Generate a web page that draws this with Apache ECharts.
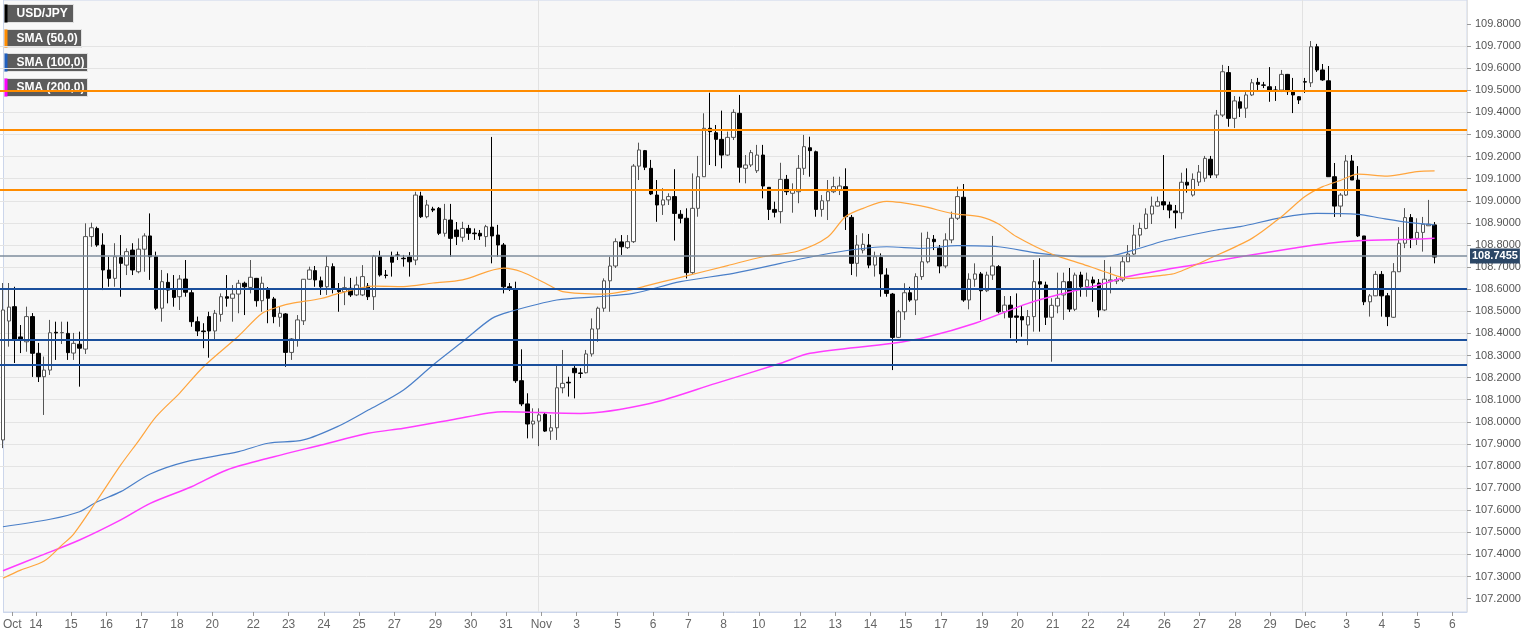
<!DOCTYPE html>
<html>
<head>
<meta charset="utf-8">
<script src="https://cdn.jsdelivr.net/npm/echarts@6/dist/echarts.min.js"></script>
<style>
  html, body { margin: 0; padding: 0; background: #ffffff; }
  #chart { width: 1536px; height: 641px; }
</style>
</head>
<body>
<div id="chart"></div>
<script>
// ---- DATA -------------------------------------------------------------
// 4-hour bars, bar number 0 = Mon Oct 14 00:00; first bar shown is -5
const firstBar = -5;
const barCount = 249;          // slots on the axis (incl. empty ones at the right)

// [open, close, low, high]
const ohlc = [
[107.918,108.506,107.881,108.628],[108.456,108.519,108.340,108.628],[108.521,108.370,108.266,108.611],
[108.384,108.375,108.311,108.438],[108.362,108.476,108.317,108.521],
[108.476,108.310,108.203,108.492],[108.310,108.204,108.180,108.357],[108.204,108.234,108.031,108.295],
[108.234,108.403,108.212,108.461],[108.405,108.402,108.280,108.453],[108.403,108.404,108.352,108.453],
[108.400,108.313,108.280,108.453],[108.311,108.355,108.280,108.402],[108.351,108.333,108.159,108.408],
[108.329,108.838,108.307,108.898],[108.838,108.878,108.792,108.901],[108.875,108.800,108.792,108.883],
[108.800,108.687,108.596,108.853],[108.687,108.649,108.611,108.747],[108.649,108.747,108.611,108.808],
[108.743,108.717,108.566,108.845],[108.709,108.770,108.664,108.785],[108.777,108.687,108.664,108.808],
[108.679,108.781,108.672,108.830],[108.781,108.841,108.679,108.853],[108.841,108.747,108.642,108.943],
[108.747,108.514,108.506,108.770],[108.514,108.634,108.453,108.687],[108.631,108.596,108.536,108.672],
[108.596,108.563,108.521,108.664],[108.566,108.646,108.506,108.664],[108.646,108.586,108.566,108.732],
[108.584,108.453,108.430,108.596],[108.453,108.411,108.388,108.476],[108.411,108.408,108.333,108.446],
[108.476,108.411,108.290,108.498],[108.411,108.491,108.370,108.506],[108.486,108.566,108.453,108.581],
[108.566,108.559,108.521,108.664],[108.559,108.578,108.453,108.619],[108.578,108.627,108.491,108.642],
[108.627,108.611,108.483,108.634],[108.608,108.654,108.581,108.732],[108.649,108.548,108.521,108.651],
[108.548,108.627,108.498,108.657],[108.596,108.559,108.446,108.610],[108.556,108.476,108.446,108.565],
[108.473,108.491,108.430,108.521],[108.488,108.314,108.249,108.492],[108.314,108.375,108.280,108.379],
[108.370,108.461,108.340,108.483],[108.457,108.645,108.438,108.646],[108.645,108.687,108.642,108.702],
[108.684,108.642,108.611,108.705],[108.638,108.611,108.574,108.657],[108.611,108.702,108.574,108.750],
[108.702,108.599,108.581,108.717],[108.596,108.589,108.498,108.628],[108.589,108.607,108.528,108.657],
[108.604,108.574,108.565,108.651],[108.574,108.619,108.569,108.657],[108.574,108.657,108.569,108.709],
[108.614,108.566,108.551,108.628],[108.566,108.750,108.506,108.755],[108.747,108.664,108.657,108.774],
[108.664,108.662,108.649,108.687],[108.747,108.722,108.657,108.770],[108.755,108.753,108.732,108.770],
[108.740,108.738,108.702,108.755],[108.746,108.724,108.657,108.768],[108.732,109.026,108.709,109.041],
[109.022,108.928,108.922,109.041],[108.928,108.981,108.921,109.004],[108.963,108.958,108.949,108.973],
[108.966,108.853,108.845,108.972],[108.853,108.916,108.838,108.986],[108.913,108.830,108.747,108.986],
[108.868,108.838,108.800,108.904],[108.835,108.875,108.815,108.905],[108.875,108.853,108.823,108.891],
[108.854,108.851,108.823,108.875],[108.853,108.841,108.823,108.868],[108.838,108.883,108.792,108.891],
[108.881,108.841,108.717,109.289],[108.845,108.800,108.747,108.891],[108.800,108.611,108.581,108.809],
[108.611,108.605,108.592,108.628],[108.599,108.186,108.176,108.634],[108.186,108.081,108.071,108.328],
[108.081,107.990,107.925,108.129],[107.990,108.003,107.925,108.061],[108.003,108.031,107.890,108.061],
[108.034,107.958,107.954,108.040],[107.958,107.973,107.918,108.031],[107.973,108.154,107.918,108.257],
[108.154,108.174,108.129,108.325],[108.179,108.176,108.114,108.204],[108.242,108.222,108.106,108.257],
[108.221,108.219,108.198,108.243],[108.222,108.307,108.219,108.325],[108.307,108.420,108.295,108.468],
[108.420,108.514,108.362,108.521],[108.514,108.638,108.498,108.649],[108.638,108.705,108.498,108.747],
[108.705,108.815,108.696,108.830],[108.814,108.792,108.755,108.845],[108.788,108.815,108.782,108.845],
[108.815,109.157,108.809,109.166],[109.157,109.230,109.094,109.263],[109.227,109.152,109.139,109.230],
[109.147,109.031,109.026,109.185],[109.026,108.981,108.905,109.094],[108.981,109.004,108.936,109.057],
[109.004,109.019,108.981,109.034],[109.019,108.943,108.820,109.143],[108.939,108.921,108.898,108.958],
[108.921,108.675,108.649,108.966],[108.675,108.966,108.669,109.124],[108.966,109.109,108.928,109.203],
[109.109,109.328,109.108,109.396],[109.328,109.313,109.162,109.489],[109.308,109.278,109.157,109.343],
[109.278,109.207,109.147,109.408],[109.207,109.287,109.203,109.313],[109.287,109.400,109.275,109.414],
[109.396,109.152,109.082,109.479],[109.147,109.162,109.079,109.207],[109.162,109.218,109.153,109.230],
[109.136,109.207,109.126,109.253],[109.207,109.067,109.011,109.253],[109.061,108.961,108.913,109.062],
[108.961,108.948,108.925,108.996],[108.951,109.097,108.898,109.172],[109.097,109.041,109.026,109.117],
[109.034,109.049,108.946,109.079],[109.041,109.147,108.989,109.207],[109.147,109.245,109.117,109.298],
[109.240,109.227,109.109,109.290],[109.222,108.961,108.928,109.227],[108.961,109.000,108.928,109.026],
[109.000,109.041,108.913,109.094],[109.041,109.064,109.035,109.109],[109.049,109.067,109.026,109.109],
[109.064,108.928,108.868,109.147],[108.925,108.717,108.664,108.936],[108.717,108.800,108.657,108.845],
[108.777,108.803,108.762,108.853],[108.800,108.709,108.695,108.850],[108.709,108.747,108.657,108.770],
[108.744,108.669,108.566,108.762],[108.664,108.581,108.566,108.695],[108.578,108.382,108.234,108.583],
[108.382,108.498,108.379,108.506],[108.498,108.584,108.461,108.627],[108.584,108.551,108.543,108.611],
[108.551,108.657,108.483,108.672],[108.657,108.724,108.642,108.856],[108.724,108.830,108.717,108.860],
[108.826,108.815,108.777,108.845],[108.785,108.705,108.672,108.800],[108.705,108.823,108.695,108.853],
[108.823,108.921,108.808,108.951],[108.921,109.019,108.913,109.064],[109.016,108.551,108.543,109.076],
[108.551,108.645,108.509,108.672],[108.645,108.669,108.611,108.717],[108.669,108.593,108.461,108.678],
[108.593,108.664,108.587,108.679],[108.664,108.705,108.642,108.841],[108.702,108.498,108.491,108.709],
[108.498,108.528,108.468,108.569],[108.528,108.473,108.378,108.569],[108.479,108.473,108.358,108.581],
[108.476,108.461,108.385,108.528],[108.438,108.476,108.347,108.506],[108.476,108.634,108.408,108.732],
[108.634,108.623,108.408,108.740],[108.619,108.473,108.438,108.634],[108.473,108.527,108.272,108.559],
[108.524,108.559,108.491,108.675],[108.574,108.634,108.461,108.675],[108.634,108.510,108.497,108.696],
[108.509,108.664,108.501,108.675],[108.664,108.611,108.566,108.679],[108.611,108.642,108.566,108.675],
[108.642,108.628,108.543,108.657],[108.628,108.506,108.473,108.646],[108.506,108.645,108.501,108.732],
[108.637,108.642,108.581,108.702],[108.637,108.643,108.623,108.655],[108.642,108.724,108.633,108.747],
[108.724,108.759,108.723,108.800],[108.759,108.845,108.755,108.891],[108.845,108.875,108.792,108.901],
[108.875,108.940,108.871,108.966],[108.940,108.976,108.895,109.019],[108.976,108.996,108.974,109.019],
[108.996,108.981,108.958,109.207],[108.981,108.958,108.921,108.996],[108.954,108.946,108.875,108.981],
[108.946,109.084,108.916,109.127],[109.084,109.071,109.037,109.147],[109.026,109.097,109.019,109.124],
[109.085,109.130,109.067,109.162],[109.102,109.192,109.086,109.203],[109.188,109.117,109.103,109.203],
[109.117,109.388,109.103,109.411],[109.388,109.584,109.379,109.615],[109.580,109.373,109.335,109.610],
[109.373,109.452,109.329,109.474],[109.448,109.419,109.379,109.471],[109.419,109.479,109.375,109.492],
[109.479,109.534,109.474,109.551],[109.536,109.527,109.501,109.556],[109.524,109.523,109.510,109.538],
[109.516,109.497,109.448,109.605],[109.501,109.500,109.452,109.519],[109.501,109.572,109.492,109.592],
[109.572,109.494,109.479,109.574],[109.494,109.479,109.397,109.556],[109.471,109.456,109.438,109.474],
[109.539,109.537,109.488,109.556],[109.534,109.697,109.515,109.723],[109.697,109.592,109.583,109.710],
[109.592,109.547,109.543,109.619],[109.543,109.109,109.108,109.610],[109.109,108.976,108.927,109.171],
[108.976,109.026,108.927,109.035],[109.026,109.180,109.022,109.207],[109.180,109.094,109.094,109.207],
[109.094,108.841,108.836,109.157],[108.841,108.543,108.528,108.841],[108.543,108.570,108.476,108.578],
[108.570,108.667,108.569,108.682],[108.667,108.570,108.476,108.682],[108.570,108.476,108.433,108.583],
[108.473,108.679,108.470,108.718],[108.679,108.808,108.678,108.881],[108.808,108.924,108.786,108.967],
[108.924,108.830,108.786,108.940],[108.830,108.857,108.800,108.921],[108.857,108.894,108.770,108.927],
[108.887,108.894,108.886,109.004],[108.891,108.7455,108.717,108.904]
];

// moving averages: [bar number, value]
const sma50 = [[-5,107.292],[-2,107.329],[2,107.370],[5,107.442],[7,107.492],[11,107.646],[15,107.805],
[18,107.913],[21,108.023],[25,108.130],[29,108.248],[35,108.388],[39,108.491],[42,108.522],[44,108.536],
[49,108.558],[52,108.581],[58,108.614],[63,108.612],[68,108.628],[73,108.642],[80,108.695],[83,108.679],
[87,108.628],[90,108.589],[97,108.578],[101,108.593],[104,108.614],[107,108.634],[111,108.660],[118,108.707],
[124,108.747],[130,108.773],[135,108.836],[138,108.928],[141,108.966],[145,108.997],[151,108.976],[156,108.943],
[161,108.927],[164,108.895],[167,108.838],[173,108.759],[178,108.716],[182,108.679],[186,108.649],[192,108.664],
[194,108.672],[200,108.741],[207,108.830],[212,108.928],[216,109.019],[219,109.064],[222,109.092],[225,109.121],
[230,109.112],[235,109.132],[238,109.135]];
const sma100 = [[-5,107.525],[3,107.559],[8,107.593],[11,107.638],[15,107.684],[20,107.764],[26,107.819],
[35,107.865],[40,107.903],[46,107.918],[52,107.981],[57,108.053],[63,108.144],[68,108.257],[73,108.362],
[78,108.468],[81,108.498],[89,108.551],[96,108.566],[102,108.581],[110,108.634],[119,108.672],[127,108.717],
[131,108.740],[138,108.774],[145,108.792],[151,108.785],[157,108.797],[164,108.792],[171,108.762],[178,108.747],
[182,108.747],[186,108.770],[192,108.818],[194,108.830],[201,108.868],[205,108.883],[212,108.924],[218,108.943],
[225,108.939],[229,108.921],[234,108.901],[238,108.891]];
const sma200 = [[-5,107.326],[1,107.390],[8,107.465],[15,107.556],[20,107.631],[27,107.706],[33,107.782],
[41,107.842],[49,107.895],[57,107.948],[63,107.971],[71,108.008],[80,108.046],[93,108.038],[105,108.084],
[116,108.174],[127,108.265],[132,108.310],[146,108.355],[152,108.385],[160,108.446],[169,108.536],[175,108.581],
[181,108.619],[186,108.657],[192,108.687],[197,108.709],[205,108.747],[214,108.785],[220,108.808],[225,108.819],
[234,108.826],[238,108.830]];

// horizontal levels
const resistanceLevels = [109.50, 109.32, 109.05];
const supportLevels = [108.60, 108.37, 108.26];
const lastPrice = 108.7455;

// axis ticks
const xTicks = [[-4,'Oct'],[0,'14'],[6,'15'],[12,'16'],[18,'17'],[24,'18'],[30,'20'],[37,'22'],[43,'23'],
[49,'24'],[55,'25'],[61,'27'],[68,'29'],[74,'30'],[80,'31'],[86,'Nov'],[92,'3'],[99,'5'],[105,'6'],[111,'7'],
[117,'8'],[123,'10'],[130,'12'],[136,'13'],[142,'14'],[148,'15'],[154,'17'],[161,'19'],[167,'20'],[173,'21'],
[179,'22'],[185,'24'],[192,'26'],[198,'27'],[204,'28'],[210,'29'],[216,'Dec'],[223,'3'],[229,'4'],[235,'5'],[241,'6']];
const monthStarts = [86, 216];
const yTicks = [107.2,107.3,107.4,107.5,107.6,107.7,107.8,107.9,108.0,108.1,108.2,108.3,108.4,108.5,
108.6,108.7,108.8,108.9,109.0,109.1,109.2,109.3,109.4,109.5,109.6,109.7,109.8];

const legendItems = [
  {name: 'USD/JPY', color: '#000000'},
  {name: 'SMA (50,0)', color: '#ff8c00'},
  {name: 'SMA (100,0)', color: '#1f5fbf'},
  {name: 'SMA (200,0)', color: '#ff00ff'}
];

// ---- BUILD ------------------------------------------------------------
const categories = Array.from({length: barCount}, (_, k) => String(k + firstBar));
const tickMap = {};
xTicks.forEach(([b, t]) => { tickMap[b - firstBar] = t; });
const monthSet = new Set(monthStarts.map(b => b - firstBar));
const toSeries = arr => arr.map(([b, v]) => [b - firstBar, v]);

const chart = echarts.init(document.getElementById('chart'), null, {renderer: 'canvas'});

const legendWidths = [69, 77, 83, 83];
const legendTops = [4, 29, 53, 78];
const graphic = legendItems.map((it, k) => ({
  type: 'group', left: 4, top: legendTops[k], z: 100,
  children: [
    {type: 'rect', shape: {x: 0, y: 0, width: legendWidths[k], height: 18},
     style: {fill: 'rgba(78,78,78,0.92)', stroke: '#e2e2e2', lineWidth: 1}},
    {type: 'rect', shape: {x: 0, y: 0, width: 3, height: 18}, style: {fill: it.color}},
    {type: 'text', x: 12, y: 9.5,
     style: {text: it.name, fill: '#ffffff', font: 'bold 12px "Liberation Sans", Arial, sans-serif', verticalAlign: 'middle'}}
  ]
}));

const levelLines = [
  ...resistanceLevels.map(v => ({yAxis: v, lineStyle: {color: '#ff8c00', width: 2, type: 'solid'}, label: {show: false}})),
  ...supportLevels.map(v => ({yAxis: v, lineStyle: {color: '#1a4f9c', width: 2, type: 'solid'}, label: {show: false}})),
  {yAxis: lastPrice, lineStyle: {color: '#7e8c9c', width: 1.5, type: 'solid'},
   label: {show: true, position: 'end', distance: 3, formatter: lastPrice.toFixed(4),
           color: '#ffffff', fontWeight: 'bold', fontSize: 11, fontFamily: '"Liberation Sans", Arial, sans-serif',
           backgroundColor: '#2c4766', padding: [2, 2, 2, 2]}}
];

const option = {
  animation: false,
  backgroundColor: '#ffffff',
  graphic: graphic,
  grid: [
    {left: -2, right: 69, top: 1.9, bottom: 20.3, show: false},
    {left: -2, right: 69, top: 0, bottom: 29, show: true, z: -1,
     backgroundColor: '#f7f7f7', borderColor: '#ccd6eb', borderWidth: 1}
  ],
  xAxis: [
    {type: 'category', gridIndex: 0, data: categories, boundaryGap: true, show: false},
    {type: 'category', gridIndex: 1, data: categories, boundaryGap: true,
     axisLine: {show: true, lineStyle: {color: '#ccd6eb'}},
     axisTick: {show: true, alignWithLabel: true, length: 4, interval: (i) => tickMap[i] !== undefined,
                lineStyle: {color: '#9a9a9a'}},
     axisLabel: {interval: (i) => tickMap[i] !== undefined, formatter: (v, i) => tickMap[i] || '',
                 color: '#666666', fontSize: 12, margin: 7,
                 fontFamily: '"Liberation Sans Narrow", "Arial Narrow", "Liberation Sans", sans-serif'},
     splitLine: {show: true, interval: (i) => monthSet.has(i), lineStyle: {color: '#e2e2e2', width: 1}}}
  ],
  yAxis: [
    {type: 'value', gridIndex: 0, position: 'right', min: 107.1, max: 109.9, interval: 0.1, scale: true,
     axisLine: {show: false},
     axisTick: {show: true, length: 4, customValues: yTicks, lineStyle: {color: '#9a9a9a'}},
     axisLabel: {show: true, customValues: yTicks, margin: 8,
                 color: '#555555', fontSize: 11, fontFamily: '"Liberation Sans", Arial, sans-serif',
                 formatter: v => v.toFixed(4)},
     splitLine: {show: true, showMinLine: false, showMaxLine: false, lineStyle: {color: '#e4e4e4', width: 1}}},
    {type: 'value', gridIndex: 1, min: 0, max: 1, show: false}
  ],
  series: [
    {type: 'line', name: 'SMA (200,0)', xAxisIndex: 0, yAxisIndex: 0, data: toSeries(sma200),
     showSymbol: false, smooth: 0.3, z: 3, lineStyle: {color: '#ff3cff', width: 1.5}},
    {type: 'line', name: 'SMA (100,0)', xAxisIndex: 0, yAxisIndex: 0, data: toSeries(sma100),
     showSymbol: false, smooth: 0.3, z: 3, lineStyle: {color: '#4a7fc8', width: 1.2}},
    {type: 'line', name: 'SMA (50,0)', xAxisIndex: 0, yAxisIndex: 0, data: toSeries(sma50),
     showSymbol: false, smooth: 0.3, z: 3, lineStyle: {color: '#ffa53d', width: 1.2}},
    {type: 'candlestick', name: 'USD/JPY', xAxisIndex: 0, yAxisIndex: 0, data: ohlc, barWidth: 4, z: 2,
     itemStyle: {color: '#ffffff', color0: '#000000', borderColor: '#555555', borderColor0: '#000000', borderWidth: 1},
     markLine: {silent: true, symbol: ['none', 'none'], animation: false, z: 5, data: levelLines}}
  ]
};
chart.setOption(option);
</script>
</body>
</html>
